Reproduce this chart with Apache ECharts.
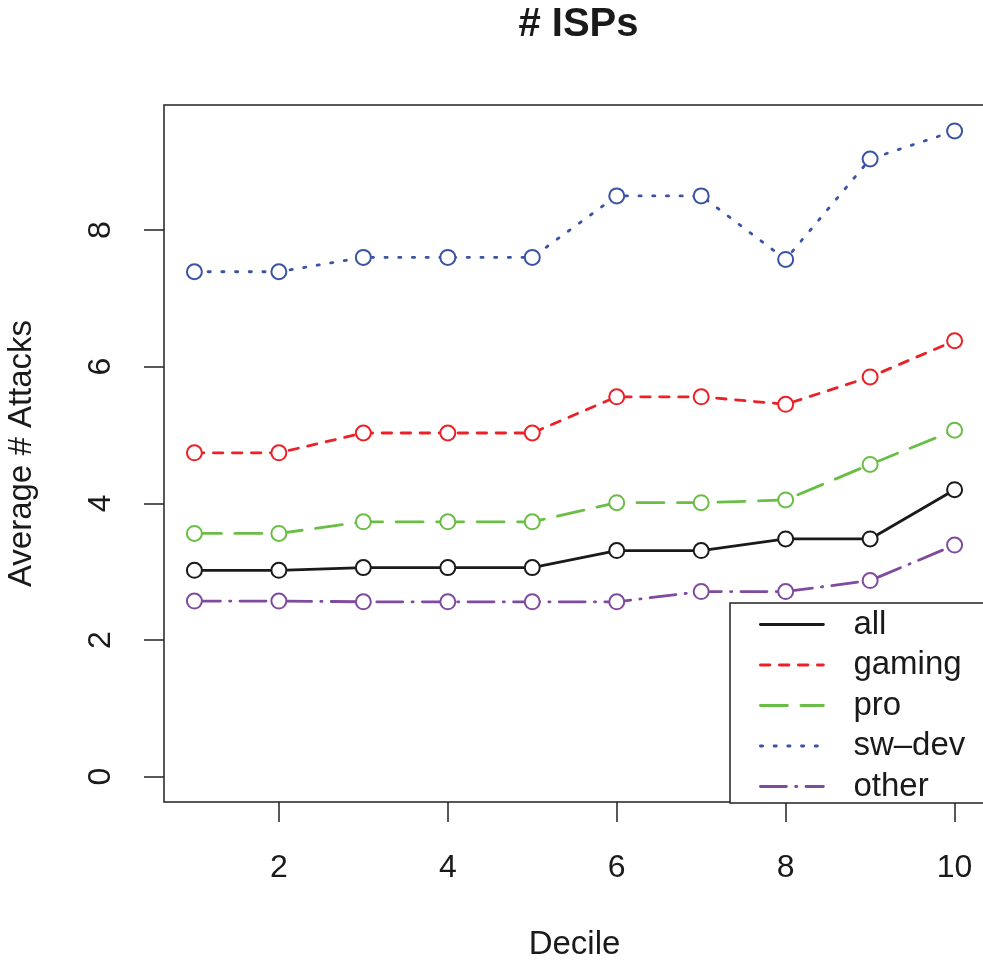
<!DOCTYPE html>
<html>
<head>
<meta charset="utf-8">
<script src="https://cdn.jsdelivr.net/npm/echarts@6/dist/echarts.min.js"></script>
<style>html,body{margin:0;padding:0;background:#fff;}#c{width:983px;height:962px;}</style>
</head>
<body>
<div id="c"></div>
<script>
const deciles = [1, 2, 3, 4, 5, 6, 7, 8, 9, 10];
const seriesNames = ['all', 'gaming', 'pro', 'sw\u2013dev', 'other'];
const allVals    = [3.02, 3.02, 3.06, 3.06, 3.06, 3.31, 3.31, 3.48, 3.48, 4.20];
const gamingVals = [4.74, 4.74, 5.03, 5.03, 5.03, 5.56, 5.56, 5.45, 5.85, 6.38];
const proVals    = [3.56, 3.56, 3.73, 3.73, 3.73, 4.01, 4.01, 4.05, 4.57, 5.07];
const swdevVals  = [7.39, 7.39, 7.60, 7.60, 7.60, 8.50, 8.50, 7.57, 9.04, 9.45];
const otherVals  = [2.57, 2.57, 2.56, 2.56, 2.56, 2.56, 2.71, 2.71, 2.87, 3.39];
const xTicks = [2, 4, 6, 8, 10];
const yTicks = [0, 2, 4, 6, 8];

const valueSets = [allVals, gamingVals, proVals, swdevVals, otherVals];
const colors = ['#1a1a1a', '#ec2027', '#6abd45', '#3a53a4', '#7e4b9e'];
const dashes = ['solid', [9.5, 9.5], [27, 13.5], [2.2, 11.5], [26, 9.2, 1.2, 9.2]];
const font = '"Liberation Sans", Arial, Helvetica, sans-serif';
const txt = '#1a1a1a';

const series = seriesNames.map((name, i) => ({
  name: name,
  type: 'line',
  data: deciles.map((d, j) => [d, valueSets[i][j]]),
  symbol: 'emptyCircle',
  symbolSize: 15,
  showSymbol: true,
  z: 2 + i,
  lineStyle: { color: colors[i], width: 2.8, type: dashes[i], cap: 'round' },
  itemStyle: { color: colors[i], borderColor: colors[i], borderWidth: 3 },
  emphasis: { disabled: true },
  animation: false
}));

const chart = echarts.init(document.getElementById('c'), null, { renderer: 'canvas' });
chart.setOption({
  animation: false,
  backgroundColor: '#ffffff',
  title: {
    text: '# ISPs',
    left: 573.5,
    textAlign: 'center',
    top: 0,
    textStyle: { fontFamily: font, fontSize: 40, fontWeight: 'bold', color: txt }
  },
  grid: {
    left: 164, top: 105, width: 821, height: 697,
    show: true, borderColor: '#222', borderWidth: 1.5, backgroundColor: 'transparent',
    containLabel: false,
    outerBoundsMode: 'none'
  },
  xAxis: {
    type: 'value', min: 0.64, max: 10.36,
    name: 'Decile', nameLocation: 'middle', nameGap: 126,
    nameTextStyle: { fontFamily: font, fontSize: 33, color: txt },
    axisLine: { show: false, onZero: false },
    splitLine: { show: false },
    axisTick: { show: true, length: 20, inside: false, customValues: xTicks, lineStyle: { color: '#222', width: 1.5 } },
    axisLabel: { customValues: xTicks, margin: 50, fontFamily: font, fontSize: 32, color: txt }
  },
  yAxis: {
    type: 'value', min: -0.37, max: 9.83,
    name: 'Average # Attacks', nameLocation: 'middle', nameGap: 126, nameRotate: 90,
    nameTextStyle: { fontFamily: font, fontSize: 33, color: txt },
    axisLine: { show: false, onZero: false },
    splitLine: { show: false },
    axisTick: { show: true, length: 20, inside: false, customValues: yTicks, lineStyle: { color: '#222', width: 1.5 } },
    axisLabel: { customValues: yTicks, rotate: 90, margin: 47, fontFamily: font, fontSize: 32, color: txt }
  },
  legend: {
    orient: 'vertical',
    left: 730, top: 603,
    data: seriesNames,
    backgroundColor: '#ffffff',
    borderColor: '#222', borderWidth: 1.5, borderRadius: 0,
    padding: [5, 120, 0, 29],
    itemWidth: 63, itemHeight: 20, itemGap: 7.5,
    selectedMode: false,
    itemStyle: { opacity: 0 },
    lineStyle: { width: 2.8 },
    textStyle: { fontFamily: font, fontSize: 33, color: txt, lineHeight: 30, padding: [0, 0, 0, 25] }
  },
  series: series
});
</script>
</body>
</html>
